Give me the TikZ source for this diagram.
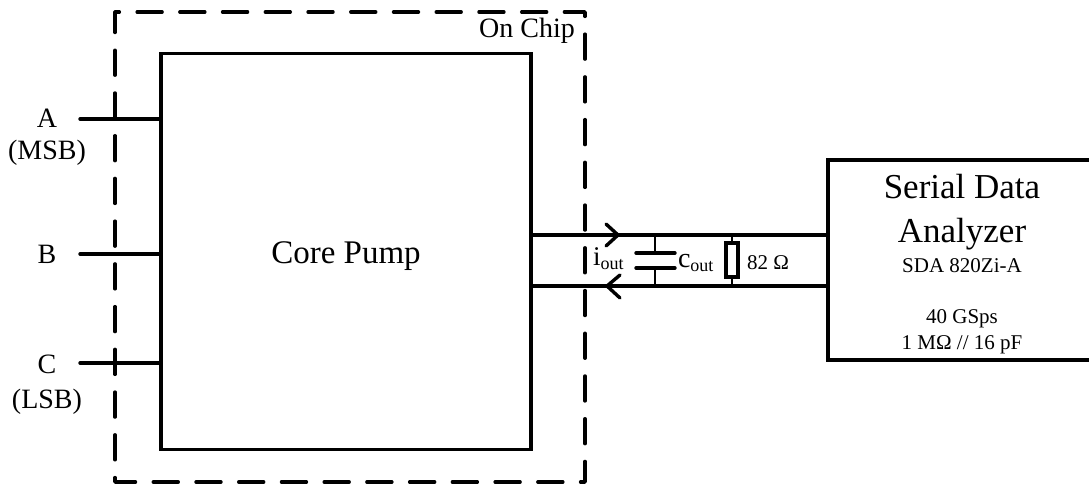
\documentclass[tikz,border=0pt]{standalone}
\usepackage{fontspec}
\setmainfont{Liberation Serif}
\newcommand{\fs}[1]{\fontsize{#1}{#1}\selectfont}
\tikzset{
  x=1pt,y=-1pt,
  wire/.style={line width=3.4pt},
  thinwire/.style={line width=2.4pt},
  lab/.style={inner sep=0pt,outer sep=0pt,anchor=base},
  big/.style={lab,font=\fs{35}},
  mid/.style={lab,font=\fs{28}},
  small/.style={lab,font=\fs{21}},
  pin/.style={wire,line cap=round},
  onchip/.style={line width=3.4pt,line cap=round,line join=round,dash pattern=on 25pt off 17.73pt,dash phase=4.5pt},
}
\begin{document}
\begin{tikzpicture}
\useasboundingbox (0,0) rectangle (1089,484);
% on-chip dashed outline
\draw[onchip] (115,12) -- (115,482) -- (585,482) -- (585,12) -- cycle;
\node[mid] (onchip) at (527,38) {On Chip};
% core pump
\node[draw,line width=3.4pt,minimum width=370pt,minimum height=396pt,inner sep=0pt,outer sep=0pt] (core) at (346,251.5) {};
\node[lab,font=\fs{33}] (corelabel) at (346,263) {Core Pump};
% input pins
\coordinate (a) at (80,119);
\coordinate (b) at (80,254);
\coordinate (c) at (80,363);
\draw[pin] (a) -- (a -| core.west);
\draw[pin] (b) -- (b -| core.west);
\draw[pin] (c) -- (c -| core.west);
\node[mid] (la) at (47,128) {A};
\node[mid] (lmsb) at (47,160) {(MSB)};
\node[mid] (lb) at (47,263) {B};
\node[mid] (lc) at (47,373) {C};
\node[mid] (llsb) at (47,408) {(LSB)};
% analyzer
\coordinate (sdatl) at (828,160);
\coordinate (sdabl) at (828,360);
\coordinate (sdatr) at (1089,160);
\coordinate (sdabr) at (1089,360);
\draw[wire,line join=miter] (sdatr) -- (sdatl) -- (sdabl) -- (sdabr);
\node[big] (sda1) at (962,198) {Serial Data};
\node[big] (sda2) at (962,242) {Analyzer};
\node[small] (sda3) at (962,272) {SDA 820Zi-A};
\node[small] (sda4) at (962,323) {40 GSps};
\node[small] (sda5) at (962,349) {1 M\symbol{"03A9} // 16 pF};
% output lines
\coordinate (ot) at (core.east |- 0,235);
\coordinate (ob) at (core.east |- 0,286);
\draw[wire] (ot) -- (ot -| sdatl);
\draw[wire] (ob) -- (ob -| sdatl);
% current arrows
\draw[pin,line join=miter] (606,224) -- (618,235) -- (606,246);
\draw[pin,line join=miter] (620,275) -- (607,286) -- (620,298);
\node[lab,font=\fs{27}] (iout) at (593,265) [anchor=base west] {i\raisebox{-4pt}{\fs{18}out}};
% capacitor
\coordinate (ct) at (655,235);
\coordinate (cb) at (655,286);
\coordinate (cp1) at (655,253);
\coordinate (cp2) at (655,268);
\draw[thinwire] (ct) -- (cp1);
\draw[thinwire] (cp2) -- (cb);
\draw[pin] (636,253) -- (675,253);
\draw[pin] (636,268) -- (675,268);
\node[lab,font=\fs{28}] (cout) at (678,267) [anchor=base west] {c\raisebox{-4pt}{\fs{18}out}};
% resistor
\node[draw,line width=3.4pt,minimum width=12pt,minimum height=34pt,inner sep=0pt,outer sep=0pt] (res) at (732,260) {};
\coordinate (rt) at (732,235);
\coordinate (rb) at (732,286);
\draw[thinwire] (rt) -- (res.north);
\draw[thinwire] (res.south) -- (rb);
\node[lab,font=\fs{21}] (rl) at (747,269) [anchor=base west] {82 \symbol{"03A9}};
\end{tikzpicture}
\end{document}
